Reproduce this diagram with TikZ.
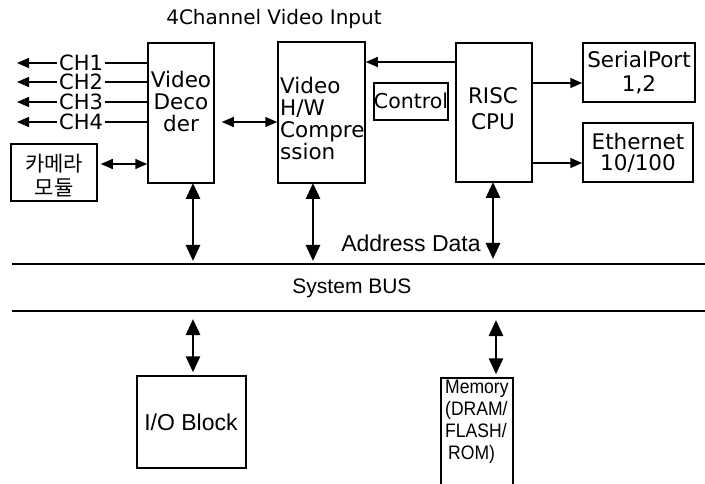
\documentclass[tikz,border=0pt]{standalone}
\usepackage{fontspec}
\setmainfont{DejaVu Sans}
\newfontfamily\lowfont{Liberation Sans}
\newfontfamily\narrowfont[FakeStretch=0.9]{Liberation Sans}
\newfontfamily\kofont{Noto Sans CJK KR}
\usetikzlibrary{arrows.meta}
\begin{document}
\begin{tikzpicture}[x=1pt,y=-1pt,
  box/.style={draw, line width=1.5pt, inner sep=0pt},
  up/.style={font=\fontsize{21.5}{22}\selectfont, align=center, inner sep=0pt},
  low/.style={font=\lowfont\fontsize{21}{22}\selectfont, align=center, inner sep=0pt},
  chlab/.style={font=\fontsize{21}{22}\selectfont, inner xsep=2pt, inner ysep=0pt},
  harr/.style={line width=1.5pt, -{Triangle[length=12pt,width=10pt]}},
  hbi/.style={line width=1.5pt, {Triangle[length=12pt,width=10pt]}-{Triangle[length=12pt,width=10pt]}},
  vbi/.style={line width=2.8pt, {Triangle[length=16pt,width=14pt]}-{Triangle[length=16pt,width=14pt]}},
  busline/.style={line width=1.5pt}
]
\useasboundingbox (0,0) rectangle (705,484);

% boxes
\node[box, minimum width=66pt, minimum height=140pt] (dec) at (181,113) {};
\node[box, minimum width=87pt, minimum height=141pt] (comp) at (321.5,112.5) {};
\node[box, minimum width=76pt, minimum height=139pt] (cpu) at (494,112.5) {};
\node[box, minimum width=74pt, minimum height=37pt] (ctrl) at (411,101.5) {};
\node[box, minimum width=112pt, minimum height=59pt] (serial) at (639,72.5) {};
\node[box, minimum width=110pt, minimum height=59pt] (eth) at (638,152.5) {};
\node[box, minimum width=86pt, minimum height=57pt] (cam) at (54,172.5) {};
\node[box, minimum width=109pt, minimum height=92pt] (io) at (191.5,422) {};
\node[box, minimum width=72pt, minimum height=110pt] (mem) at (477,433) {};

% texts
\node[up, font=\fontsize{20}{22}\selectfont] (title) at (274,19) {4Channel Video Input};
\node[up] (dectxt) at (181,101) {Video\\Deco\\der};
\node[up, align=left, anchor=west] (comptxt) at (280,118) {Video\\H/W\\Compre\\ssion};
\node[up, font=\fontsize{21.5}{26}\selectfont] (cputxt) at (493,109) {RISC\\CPU};
\node[up, font=\fontsize{20.5}{22}\selectfont] (ctrltxt) at (411,101) {Control};
\node[up, font=\fontsize{21.5}{24}\selectfont] (serialtxt) at (639,73) {SerialPort\\1,2};
\node[up, font=\fontsize{21.5}{21}\selectfont] (ethtxt) at (638,152.5) {Ethernet\\10/100};
\node[up, font=\kofont\fontsize{21}{24}\selectfont] (camtxt) at (54,176) {카메라\\모듈};
\node[low, font=\lowfont\fontsize{23}{22}\selectfont] (addr) at (411,243) {Address Data};
\node[low] (bustxt) at (352,288) {System BUS};
\node[low, font=\lowfont\fontsize{23}{26}\selectfont] (iotxt) at (191,422) {I/O Block};
\node[low, align=left, anchor=west, font=\narrowfont\fontsize{19.5}{22}\selectfont] (memtxt) at (445,421.5) {Memory\\(DRAM/\\FLASH/\\\hspace{3pt}ROM)};

% channel labels
\node[chlab] (ch1) at (81,63) {CH1};
\node[chlab] (ch2) at (81,82) {CH2};
\node[chlab] (ch3) at (81,102) {CH3};
\node[chlab] (ch4) at (81,122) {CH4};
\coordinate (t1) at (17,63);
\coordinate (t2) at (17,82);
\coordinate (t3) at (17,102);
\coordinate (t4) at (17,122);
\foreach \i in {1,2,3,4}{
  \draw[line width=1.5pt] (dec.west |- ch\i) -- (ch\i.east);
  \draw[harr] (ch\i.west) -- (t\i);
}

% horizontal connectors
\draw[harr] (cpu.west |- 0,62) -- (comp.east |- 0,62);
\draw[harr] (cpu.east |- 0,83) -- (serial.west |- 0,83);
\draw[harr] (cpu.east |- 0,163) -- (eth.west |- 0,163);
\draw[hbi, shorten <=7pt] (dec.east |- 0,122) -- (comp.west |- 0,122);
\draw[hbi, shorten <=3pt] (cam.east |- 0,164) -- (dec.west |- 0,164);

% system bus
\coordinate (busTL) at (12,264);
\coordinate (busTR) at (705,264);
\coordinate (busBL) at (12,311);
\coordinate (busBR) at (705,311);
\draw[busline] (busTL) -- (busTR);
\draw[busline] (busBL) -- (busBR);

% vertical connectors
\draw[vbi, shorten >=3pt] (193,183) coordinate (d1) -- (d1 |- busTL);
\draw[vbi, shorten >=3pt] (313,183) coordinate (c1) -- (c1 |- busTL);
\draw[vbi, shorten >=5pt] (493,182) coordinate (p1) -- (p1 |- busTL);
\draw[vbi, shorten <=8pt, shorten >=3pt] (193,311) coordinate (d2) -- (d2 |- io.north);
\draw[vbi, shorten <=9pt, shorten >=3pt] (496,311) coordinate (m2) -- (m2 |- mem.north);
\end{tikzpicture}
\end{document}
